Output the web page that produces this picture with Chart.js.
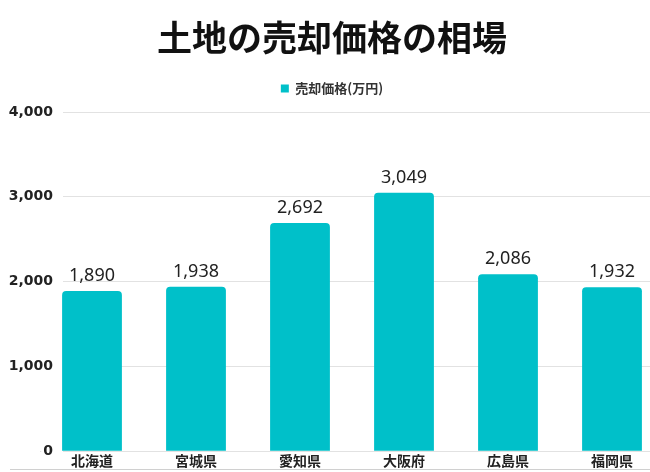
<!DOCTYPE html>
<html>
<head>
<meta charset="utf-8">
<script src="https://cdn.jsdelivr.net/npm/chart.js@4"></script>
<style>
    html, body { margin: 0; padding: 0; background: #fff; overflow: hidden; }
    #wrap { position: relative; width: 650px; height: 472px; overflow: hidden; }
    #bottomLine { position: absolute; left: 10px; right: 0; top: 469px; height: 1px; background: #d0d0d0; }
</style>
</head>
<body>
<div id="wrap">
    <canvas id="barChart" width="664" height="472"></canvas>
    <div id="bottomLine"></div>
</div>
<script>
var titulo = '土地の売却価格の相場';
var serieNombre = '売却価格(万円)';
var prefecturas = ['北海道', '宮城県', '愛知県', '大阪府', '広島県', '福岡県'];
var precios = [1890, 1938, 2692, 3049, 2086, 1932];
var ejeY = [0, 1000, 2000, 3000, 4000];

var fuenteJP = '"Noto Sans CJK JP", "Noto Sans", sans-serif';
var fuenteEjeY = 'bold 14px "DejaVu Sans", sans-serif';

// ancho de la etiqueta mas larga del eje Y (para alinear a la derecha)
function anchoEtiquetaY() {
    var c = document.createElement('canvas').getContext('2d');
    c.font = fuenteEjeY;
    var w = 0;
    ejeY.forEach(function (v) {
        w = Math.max(w, c.measureText(v.toLocaleString('en-US')).width);
    });
    return w;
}

// espacio vacio entre la leyenda y el area del grafico
var espaciador = {
    id: 'espaciador',
    beforeInit: function (chart) {
        var caja = {
            position: 'top',
            weight: 0,
            fullSize: true,
            options: {},
            left: 0, top: 0, right: 0, bottom: 0, width: 0, height: 0,
            update: function (maxWidth, maxHeight) {
                this.width = maxWidth;
                this.height = 7;
            },
            isHorizontal: function () { return true; },
            getPadding: function () { return { top: 0, left: 0, right: 0, bottom: 0 }; },
            draw: function () {}
        };
        Chart.layouts.addBox(chart, caja);
    }
};

// etiquetas con el valor encima de cada barra
var etiquetasValor = {
    id: 'etiquetasValor',
    afterDatasetsDraw: function (chart) {
        var ctx = chart.ctx;
        var meta = chart.getDatasetMeta(0);
        ctx.save();
        ctx.font = '18px "Noto Sans", sans-serif';
        ctx.fillStyle = '#222';
        ctx.textAlign = 'center';
        ctx.textBaseline = 'bottom';
        meta.data.forEach(function (bar, i) {
            ctx.fillText(precios[i].toLocaleString('en-US'), bar.x, bar.y - 6);
        });
        ctx.restore();
    }
};

function cargarGrafica() {
    var ctx = document.getElementById('barChart').getContext('2d');
    var anchoY = anchoEtiquetaY();
    var grafica = new Chart(ctx, {
        type: 'bar',
        data: {
            labels: prefecturas,
            datasets: [
                {
                    label: serieNombre,
                    data: precios,
                    backgroundColor: '#00C0C9',
                    borderRadius: { topLeft: 4, topRight: 4 },
                    borderSkipped: 'bottom',
                    barPercentage: 0.575,
                    categoryPercentage: 1.0
                }
            ]
        },
        options: {
            responsive: false,
            animation: false,
            layout: { padding: { top: 0, right: 0, bottom: 2, left: 0 } },
            plugins: {
                title: {
                    display: true,
                    text: titulo,
                    color: '#111',
                    font: { family: fuenteJP, size: 35, weight: 'bold' },
                    padding: { top: 17, bottom: 0 }
                },
                legend: {
                    position: 'top',
                    labels: {
                        boxWidth: 8,
                        boxHeight: 8,
                        padding: 23,
                        color: '#333',
                        font: { family: fuenteJP, size: 13, weight: 'bold' }
                    }
                },
                tooltip: { enabled: false }
            },
            scales: {
                x: {
                    grid: { display: false, drawTicks: false },
                    border: { display: false },
                    ticks: {
                        color: '#222',
                        padding: 1,
                        font: { family: fuenteJP, size: 14, weight: 'bold' }
                    }
                },
                y: {
                    min: 0,
                    max: 4000,
                    afterFit: function (scale) { scale.width = 40; },
                    afterBuildTicks: function (scale) {
                        scale.ticks = ejeY.map(function (v) { return { value: v }; });
                    },
                    grid: { color: '#e2e2e2', drawTicks: false },
                    border: { display: false },
                    ticks: {
                        color: '#222',
                        mirror: true,
                        crossAlign: 'far',
                        padding: 13 - anchoY,
                        showLabelBackdrop: true,
                        backdropColor: '#fff',
                        backdropPadding: { top: 3, bottom: 3, left: 2, right: 10 },
                        font: { family: '"DejaVu Sans", sans-serif', size: 14, weight: 'bold' },
                        callback: function (v) { return v.toLocaleString('en-US'); }
                    }
                }
            }
        },
        plugins: [espaciador, etiquetasValor]
    });
}

cargarGrafica();
</script>
</body>
</html>
